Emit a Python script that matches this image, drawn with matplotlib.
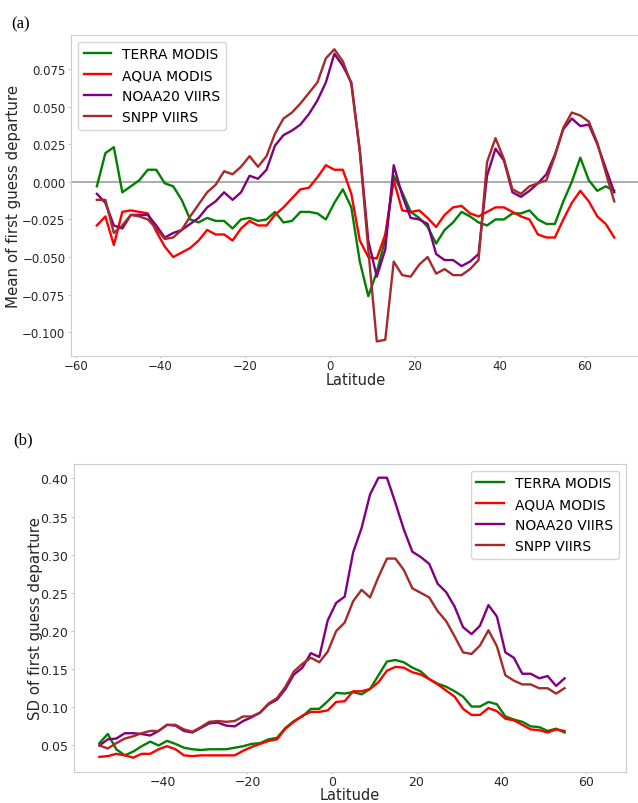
import numpy as np
import matplotlib
matplotlib.use("Agg")
import matplotlib.pyplot as plt

# latitudes of the 2-degree bins
lat_a = np.arange(-55, 68, 2)
lat_b = np.arange(-55, 56, 2)

names = ["TERRA MODIS", "AQUA MODIS", "NOAA20 VIIRS", "SNPP VIIRS"]
colors = ["green", "red", "purple", "brown"]

# (a) mean of first guess departure
terra_mean = [-0.003, 0.019, 0.023, -0.007, -0.003, 0.001, 0.008, 0.008, -0.001, -0.003,
              -0.012, -0.025, -0.027, -0.024, -0.026, -0.026, -0.031, -0.025, -0.024, -0.026,
              -0.025, -0.020, -0.027, -0.026, -0.020, -0.020, -0.021, -0.025, -0.014, -0.005,
              -0.017, -0.053, -0.076, -0.060, -0.038, 0.004, -0.007, -0.020, -0.024, -0.030,
              -0.041, -0.032, -0.027, -0.020, -0.023, -0.027, -0.029, -0.025, -0.025, -0.021,
              -0.021, -0.019, -0.025, -0.028, -0.028, -0.013, 0.000, 0.016, 0.001, -0.006,
              -0.003, -0.006]
aqua_mean = [-0.029, -0.023, -0.042, -0.020, -0.019, -0.020, -0.021, -0.033, -0.043, -0.050,
             -0.047, -0.044, -0.039, -0.032, -0.035, -0.035, -0.039, -0.031, -0.026, -0.029,
             -0.029, -0.022, -0.017, -0.011, -0.005, -0.004, 0.003, 0.011, 0.008, 0.008,
             -0.008, -0.039, -0.050, -0.051, -0.035, 0.001, -0.019, -0.020, -0.019, -0.024,
             -0.030, -0.022, -0.017, -0.016, -0.021, -0.023, -0.020, -0.017, -0.017, -0.020,
             -0.023, -0.025, -0.035, -0.037, -0.037, -0.025, -0.014, -0.006, -0.013, -0.023,
             -0.028, -0.037]
noaa20_mean = [-0.008, -0.014, -0.029, -0.031, -0.022, -0.022, -0.022, -0.029, -0.037, -0.034,
               -0.032, -0.028, -0.024, -0.017, -0.013, -0.007, -0.012, -0.007, 0.004, 0.002,
               0.008, 0.024, 0.031, 0.034, 0.038, 0.045, 0.054, 0.066, 0.085, 0.077,
               0.066, 0.021, -0.039, -0.063, -0.045, 0.011, -0.009, -0.024, -0.025, -0.028,
               -0.048, -0.052, -0.052, -0.056, -0.053, -0.048, 0.004, 0.022, 0.014, -0.007,
               -0.010, -0.006, -0.001, 0.005, 0.018, 0.035, 0.042, 0.037, 0.038, 0.025,
               0.009, -0.007]
snpp_mean = [-0.012, -0.012, -0.034, -0.029, -0.022, -0.023, -0.025, -0.031, -0.038, -0.037,
             -0.032, -0.023, -0.015, -0.007, -0.002, 0.007, 0.005, 0.010, 0.017, 0.010,
             0.017, 0.032, 0.042, 0.046, 0.052, 0.059, 0.066, 0.082, 0.088, 0.080,
             0.065, 0.020, -0.045, -0.106, -0.105, -0.053, -0.062, -0.063, -0.055, -0.050,
             -0.061, -0.058, -0.062, -0.062, -0.058, -0.052, 0.013, 0.029, 0.015, -0.005,
             -0.008, -0.003, -0.001, 0.001, 0.017, 0.036, 0.046, 0.044, 0.040, 0.026,
             0.006, -0.013]

# (b) standard deviation of first guess departure
terra_sd = [0.053, 0.065, 0.045, 0.037, 0.042, 0.049, 0.055, 0.050, 0.056, 0.052,
            0.047, 0.045, 0.044, 0.045, 0.045, 0.045, 0.047, 0.049, 0.052, 0.053,
            0.058, 0.060, 0.073, 0.082, 0.088, 0.098, 0.098, 0.108, 0.119, 0.118,
            0.120, 0.117, 0.124, 0.142, 0.160, 0.162, 0.159, 0.152, 0.147, 0.137,
            0.131, 0.127, 0.121, 0.114, 0.101, 0.101, 0.107, 0.104, 0.088, 0.084,
            0.081, 0.075, 0.074, 0.069, 0.072, 0.067]
aqua_sd = [0.035, 0.036, 0.039, 0.037, 0.034, 0.039, 0.039, 0.045, 0.049, 0.045,
           0.037, 0.036, 0.037, 0.037, 0.037, 0.037, 0.037, 0.043, 0.048, 0.052,
           0.056, 0.058, 0.072, 0.081, 0.089, 0.094, 0.094, 0.096, 0.107, 0.108,
           0.121, 0.121, 0.124, 0.133, 0.148, 0.153, 0.152, 0.146, 0.143, 0.137,
           0.130, 0.122, 0.114, 0.098, 0.090, 0.090, 0.099, 0.095, 0.085, 0.083,
           0.077, 0.071, 0.070, 0.067, 0.071, 0.069]
noaa20_sd = [0.050, 0.058, 0.059, 0.066, 0.066, 0.065, 0.063, 0.069, 0.077, 0.076,
             0.069, 0.067, 0.073, 0.079, 0.080, 0.076, 0.075, 0.082, 0.087, 0.093,
             0.104, 0.110, 0.124, 0.143, 0.152, 0.171, 0.166, 0.214, 0.237, 0.245,
             0.303, 0.335, 0.379, 0.401, 0.401, 0.368, 0.333, 0.304, 0.297, 0.288,
             0.262, 0.251, 0.232, 0.205, 0.196, 0.207, 0.234, 0.219, 0.172, 0.165,
             0.144, 0.144, 0.138, 0.141, 0.128, 0.138]
snpp_sd = [0.050, 0.046, 0.053, 0.059, 0.062, 0.066, 0.069, 0.069, 0.077, 0.077,
           0.071, 0.068, 0.074, 0.081, 0.082, 0.081, 0.082, 0.088, 0.088, 0.093,
           0.105, 0.112, 0.127, 0.147, 0.157, 0.165, 0.159, 0.173, 0.200, 0.211,
           0.239, 0.254, 0.244, 0.271, 0.295, 0.295, 0.280, 0.256, 0.250, 0.244,
           0.226, 0.213, 0.193, 0.172, 0.170, 0.181, 0.201, 0.180, 0.142, 0.135,
           0.130, 0.130, 0.125, 0.125, 0.118, 0.125]

means = [terra_mean, aqua_mean, noaa20_mean, snpp_mean]
sds = [terra_sd, aqua_sd, noaa20_sd, snpp_sd]

plt.rcParams["font.family"] = "DejaVu Sans"

fig = plt.figure(figsize=(6.38, 8.04), dpi=100)
ax1 = fig.add_axes([0.1113, 0.556, 0.892, 0.3996])
ax2 = fig.add_axes([0.116, 0.039, 0.865, 0.383])

for ax, fs in ((ax1, 8.5), (ax2, 9)):
    for s in ax.spines.values():
        s.set_color("#cccccc")
    ax.tick_params(labelsize=fs, colors="#cccccc", labelcolor="#262626")
    ax.tick_params(axis="y", length=2.5, pad=1.5)
    ax.tick_params(axis="x", length=1.5, pad=1)

ax1.axhline(0, color="#a6a6a6", lw=1.3, zorder=1)
for vals, name, c in zip(means, names, colors):
    ax1.plot(lat_a, vals, color=c, lw=1.7, label=name)
ax1.set_yticks([-0.1, -0.075, -0.05, -0.025, 0, 0.025, 0.05, 0.075])
ax1.set_xlabel("Latitude", fontsize=10.5, color="#262626", labelpad=0)
ax1.set_ylabel("Mean of first guess departure", fontsize=10.8, color="#262626", labelpad=1)
ax1.legend(loc="upper left", fontsize=10)

for vals, name, c in zip(sds, names, colors):
    ax2.plot(lat_b, vals, color=c, lw=1.7, label=name)
ax2.set_xlim(-61, 69.5)
ax2.set_xticks([-40, -20, 0, 20, 40, 60])
ax2.set_xlabel("Latitude", fontsize=10.5, color="#262626", labelpad=-1)
ax2.set_ylabel("SD of first guess departure", fontsize=10.8, color="#262626", labelpad=-2)
ax2.legend(loc="upper right", fontsize=10)

fig.text(0.017, 0.970, "(a)", family="Liberation Serif", fontsize=12, va="center")
fig.text(0.020, 0.4527, "(b)", family="Liberation Serif", fontsize=12, va="center")

fig.savefig("out.png", dpi=100)
